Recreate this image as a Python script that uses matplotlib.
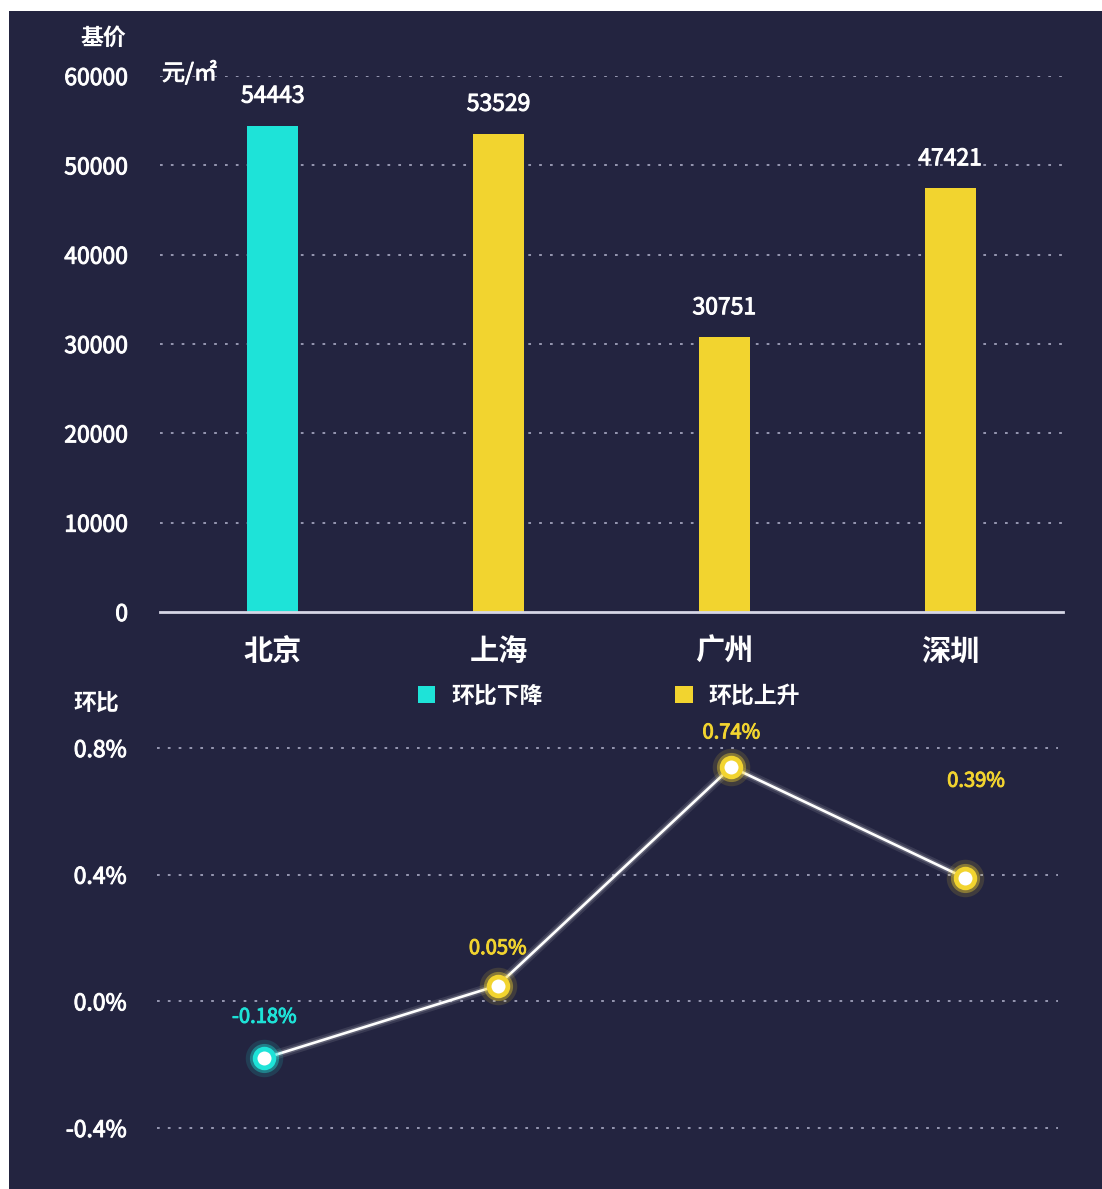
import matplotlib
matplotlib.use("Agg")
import matplotlib.pyplot as plt
import matplotlib.patheffects as pe
from matplotlib.patches import Rectangle, Patch
import numpy as np

plt.rcParams['font.family'] = ['Noto Sans CJK SC', 'DejaVu Sans']

# ---- data ----
cities = ['北京', '上海', '广州', '深圳']
base_price = [54443, 53529, 30751, 47421]
mom_change = [-0.18, 0.05, 0.74, 0.39]
price_ticks = [0, 10000, 20000, 30000, 40000, 50000, 60000]
pct_ticks = [-0.4, 0.0, 0.4, 0.8]
pct_tick_labels = ['-0.4%', '0.0%', '0.4%', '0.8%']
legend_labels = ['环比下降', '环比上升']

W, H = 1102, 1189
BG = '#232440'
CYAN = '#1ee3d8'
YELLOW = '#f2d42f'
GRID = '#a0a1ba'
WHITE = '#ffffff'

def thick(c):
    return [pe.withStroke(linewidth=0.7, foreground=c)]

fig = plt.figure(figsize=(W / 100, H / 100), dpi=100, facecolor='white')
fig.patches.append(Rectangle((9 / W, 0), 1 - 9 / W, 1 - 11 / H, transform=fig.transFigure,
                             facecolor=BG, edgecolor='none', zorder=-10))

def px_axes(x0, y0, x1, y1):
    return fig.add_axes([x0 / W, 1 - y1 / H, (x1 - x0) / W, (y1 - y0) / H])

colors = [CYAN if v < 0 else YELLOW for v in mom_change]

# ---- top bar chart ----
ax = px_axes(160, 76, 1063, 612)
ax.set_facecolor('none')
x = np.arange(len(cities))
ax.set_xlim(-0.5, 3.5)
ax.set_ylim(0, 60000)
for t in price_ticks[1:]:
    ax.axhline(t, color=GRID, lw=1.3, ls=(0, (1.5, 4.5)), zorder=1)
ax.axhline(0, color='#d6d6e6', lw=2, zorder=3, clip_on=False)
ax.bar(x, base_price, width=0.226, color=colors, zorder=2)
for xi, v in zip(x, base_price):
    ax.annotate(f'{v}', (xi, v), xytext=(0, 13), textcoords='offset points',
                ha='center', va='bottom', color=WHITE, fontsize=16.5,
                path_effects=thick(WHITE), clip_on=False)
for s in ax.spines.values():
    s.set_visible(False)
ax.set_yticks(price_ticks)
ax.set_yticklabels([str(t) for t in price_ticks], color=WHITE, fontsize=16.5)
for lbl in ax.get_yticklabels():
    lbl.set_path_effects(thick(WHITE))
ax.tick_params(axis='y', length=0, pad=23)
ax.set_xticks(x)
ax.set_xticklabels(cities, color=WHITE, fontsize=21, fontweight='bold')
ax.tick_params(axis='x', length=0, pad=17)

fig.text(103 / W, 1 - 38 / H, '基价', color=WHITE, fontsize=16.5, fontweight='bold',
         ha='center', va='center')
fig.text(162 / W, 1 - 73 / H, '元/㎡', color=WHITE, fontsize=16.5,
         path_effects=thick(WHITE), ha='left', va='center')

# legend
handles = [Patch(facecolor=CYAN, edgecolor='none'), Patch(facecolor=YELLOW, edgecolor='none')]
leg = fig.legend(handles, legend_labels, loc='center', bbox_to_anchor=(609 / W, 1 - 696 / H),
                 ncol=2, frameon=False, handlelength=0.75, handleheight=0.75,
                 handletextpad=0.7, columnspacing=5.8, fontsize=16.5)
for t in leg.get_texts():
    t.set_color(WHITE)
    t.set_fontweight('bold')

fig.text(96 / W, 1 - 703 / H, '环比', color=WHITE, fontsize=16.5, fontweight='bold',
         ha='center', va='center')

# ---- bottom line chart ----
ax2 = px_axes(157, 748, 1058, 1128)
ax2.set_facecolor('none')
ax2.set_xlim(-0.4586, 3.3986)
ax2.set_ylim(-0.4, 0.8)
for t in pct_ticks:
    ax2.axhline(t, color=GRID, lw=1.3, ls=(0, (1.5, 4.5)), zorder=1, clip_on=False)
for s in ax2.spines.values():
    s.set_visible(False)
ax2.set_xticks([])
ax2.set_yticks(pct_ticks)
ax2.set_yticklabels(pct_tick_labels, color=WHITE, fontsize=16.5)
for lbl in ax2.get_yticklabels():
    lbl.set_path_effects(thick(WHITE))
ax2.tick_params(axis='y', length=0, pad=22)

# glow line
ax2.plot(x, mom_change, color=WHITE, lw=7, alpha=0.1, zorder=3, solid_capstyle='round')
ax2.plot(x, mom_change, color=WHITE, lw=4, alpha=0.2, zorder=3, solid_capstyle='round')
ax2.plot(x, mom_change, color=WHITE, lw=1.9, zorder=4)
for xi, v, c in zip(x, mom_change, colors):
    ax2.plot(xi, v, 'o', ms=27, color=c, alpha=0.14, mec='none', zorder=5, clip_on=False)
    ax2.plot(xi, v, 'o', ms=21, color=c, alpha=0.4, mec='none', zorder=5, clip_on=False)
    ax2.plot(xi, v, 'o', ms=13.5, mfc=WHITE, mec=c, mew=3.4, zorder=6, clip_on=False)

label_offsets = [(0, 22), (0, 19), (0, 17), (8, 62)]
for xi, v, c, off in zip(x, mom_change, colors, label_offsets):
    ax2.annotate(f'{v:.2f}%', (xi, v), xytext=off, textcoords='offset points',
                 ha='center', va='bottom', color=c, fontsize=14.5,
                 path_effects=thick(c), clip_on=False)

fig.savefig('out.png', dpi=100, facecolor=fig.get_facecolor())
